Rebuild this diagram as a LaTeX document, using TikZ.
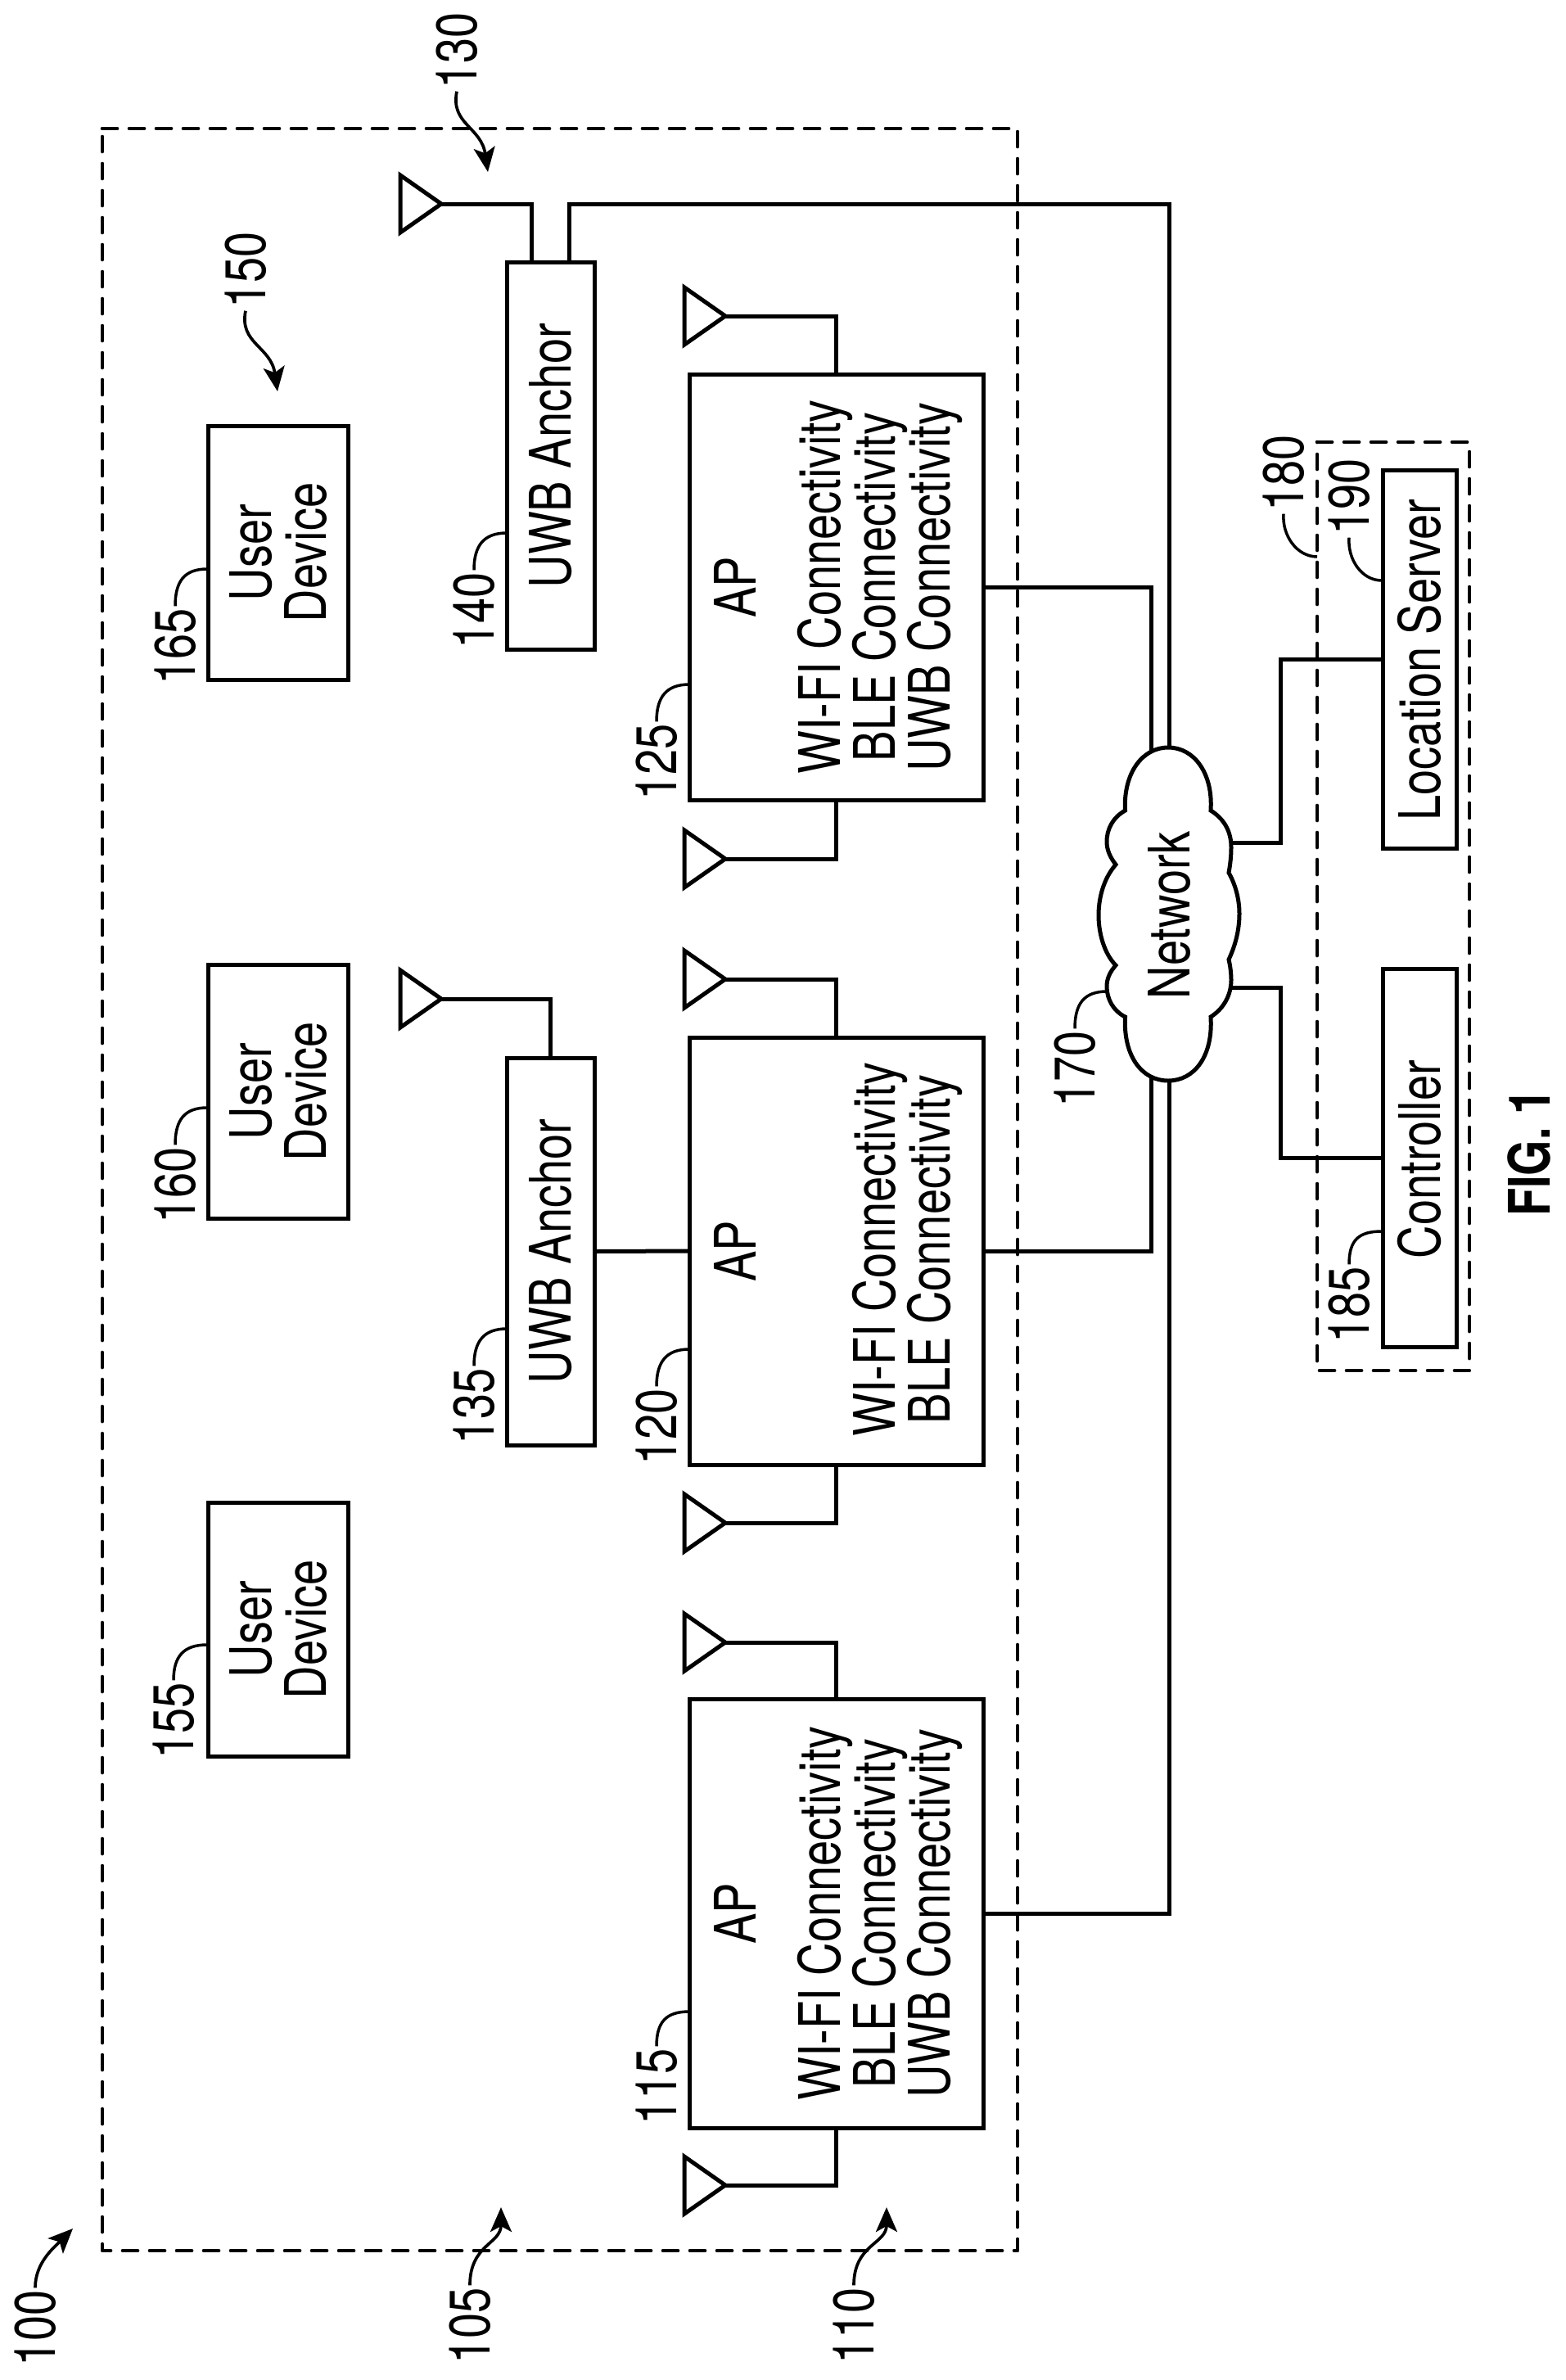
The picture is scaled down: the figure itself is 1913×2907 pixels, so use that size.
\documentclass[tikz,border=0pt]{standalone}
\usepackage{fontspec}
\usetikzlibrary{arrows.meta,calc}
\newfontfamily\lab[FakeStretch=0.8]{TeX Gyre Heros}
\newcommand{\labsize}{\lab\fontsize{70}{67}\selectfont}
\lineskiplimit=-100pt
\newcommand{\antennaat}[3]{%
  \coordinate (#1) at (#2,#3);
  \draw[wire,line join=miter] (#1) -- ++(-50,-35) -- ++(0,70) -- cycle;}
\tikzset{
  wire/.style={line width=5pt,black},
  dashbox/.style={line width=4.7pt,black,dash pattern=on 21pt off 12pt,line cap=round,line join=round},
  box/.style={draw=black,line width=5pt,fill=none,inner sep=0pt,outer sep=0pt,rectangle},
  vtext/.style={rotate=90,font=\labsize,inner sep=0pt,outer sep=0pt,align=center,text=black},
  reftext/.style={rotate=90,font=\labsize,inner sep=0pt,outer sep=3pt,text=black},
  leader/.style={line width=3.5pt,black},
  arrowlead/.style={line width=3.7pt,black,-{Stealth[length=30pt,width=26pt,inset=7pt]}},
}
\begin{document}
\begin{tikzpicture}[x=1pt,y=-1pt]
\fill[white] (0,0) rectangle (1913,2907);
\useasboundingbox (0,0) rectangle (1913,2907);

% dashed enclosures
\draw[dashbox,dash pattern=on 18pt off 15pt] (125,157) -- (1243,157) -- (1243,2749) -- (125,2749) -- cycle;
\draw[dashbox,dash pattern=on 18pt off 15pt] (1609,540) -- (1795,540) -- (1795,1674) -- (1609,1674) -- cycle;

% user devices
\node[box,minimum width=171pt,minimum height=310pt] (u165) at (339.5,675) {};
\node[box,minimum width=171pt,minimum height=310pt] (u160) at (339.5,1333) {};
\node[box,minimum width=171pt,minimum height=310pt] (u155) at (339.5,1990) {};
\node[vtext] (tu165) at (340,675) {User\\Device};
\node[vtext] (tu160) at (340,1333) {User\\Device};
\node[vtext] (tu155) at (340,1990) {User\\Device};

% UWB anchors
\node[box,minimum width=107pt,minimum height=473pt] (a140) at (672.5,556.5) {};
\node[box,minimum width=107pt,minimum height=473pt] (a135) at (672.5,1528.5) {};
\node[vtext] (ta140) at (673,556.5) {UWB Anchor};
\node[vtext] (ta135) at (673,1528.5) {UWB Anchor};

% access points
\node[box,minimum width=359pt,minimum height=520pt] (ap125) at (1021.5,717) {};
\node[box,minimum width=359pt,minimum height=522pt] (ap120) at (1021.5,1528) {};
\node[box,minimum width=359pt,minimum height=524pt] (ap115) at (1021.5,2337) {};
\node[vtext,anchor=base] (tap125) at (923,717) {AP};
\node[vtext,anchor=base] (tap120) at (923,1528) {AP};
\node[vtext,anchor=base] (tap115) at (923,2337) {AP};
\node[vtext] (c125) at (1075,717) {WI-FI Connectivity\\BLE Connectivity\\UWB Connectivity};
\node[vtext] (c120) at (1108,1526) {WI-FI Connectivity\\BLE Connectivity};
\node[vtext] (c115) at (1075,2337) {WI-FI Connectivity\\BLE Connectivity\\UWB Connectivity};

% controller and location server
\node[box,minimum width=90pt,minimum height=462pt] (srv) at (1734,805) {};
\node[box,minimum width=90pt,minimum height=462pt] (ctl) at (1734,1414) {};
\node[vtext] (tsrv) at (1734,806) {Location Server};
\node[vtext] (tctl) at (1734,1416) {Controller};

% network cloud
\draw[wire]
 (1374.5,990) .. controls (1372,945) and (1395,913) .. (1427,913)
 .. controls (1459,913) and (1482,945) .. (1479,990)
 .. controls (1495,1000) and (1504,1015) .. (1504,1035)
 .. controls (1504,1045) and (1503,1055) .. (1501,1066)
 .. controls (1509,1080) and (1514,1098) .. (1514,1116)
 .. controls (1514,1136) and (1509,1155) .. (1501,1172)
 .. controls (1503,1180) and (1504,1190) .. (1504,1197)
 .. controls (1504,1215) and (1495,1232) .. (1479,1242)
 .. controls (1482,1290) and (1459,1320) .. (1427,1320)
 .. controls (1395,1320) and (1372,1290) .. (1374.5,1242)
 .. controls (1360,1235) and (1352,1220) .. (1352,1205)
 .. controls (1352,1195) and (1356,1187) .. (1363,1179)
 .. controls (1349,1165) and (1342,1140) .. (1342,1118)
 .. controls (1342,1095) and (1349,1072) .. (1363,1056)
 .. controls (1356,1047) and (1352,1038) .. (1352,1028)
 .. controls (1352,1012) and (1360,998) .. (1374.5,990) -- cycle;
\node[vtext,anchor=base] (network) at (1453,1118) {Network};

% points on the cloud and bus corners
\coordinate (cloudtopa) at (1406,918);
\coordinate (cloudtopb) at (1428,913);
\coordinate (cloudbota) at (1406,1316);
\coordinate (cloudbotb) at (1428,1320);
\coordinate (cloudr1) at (1503,1029);
\coordinate (cloudr2) at (1503,1206);
\coordinate (busjog) at (1564,1116);
\coordinate (anchoruplink) at ($(a140.north)+(22.5,0)$);
\coordinate (anchorant) at ($(a140.north)+(-23.5,0)$);
\coordinate (bustop) at (1428,249);

% antennas
\antennaat{ant140}{539}{249}
\antennaat{ant135}{539}{1220}
\antennaat{ant125t}{886}{386}
\antennaat{ant125b}{886}{1049}
\antennaat{ant120t}{886}{1196}
\antennaat{ant120b}{886}{1860}
\antennaat{ant115t}{886}{2006}
\antennaat{ant115b}{886}{2669}

% connectors
\draw[wire] (ant140) -| (anchorant);
\draw[wire] (ant135) -| (a135.north);
\draw[wire] (ant125t) -| (ap125.north);
\draw[wire] (ant125b) -| (ap125.south);
\draw[wire] (ant120t) -| (ap120.north);
\draw[wire] (ant120b) -| (ap120.south);
\draw[wire] (ant115t) -| (ap115.north);
\draw[wire] (ant115b) -| (ap115.south);
\draw[wire] (anchoruplink) |- (bustop) -- (cloudtopb);
\draw[wire] (a135.east) -- (ap120.west);
\draw[wire] (ap125.east) -| (cloudtopa);
\draw[wire] (ap120.east) -| (cloudbota);
\draw[wire] (ap115.east) -| (cloudbotb);
\draw[wire] (cloudr1) -| (busjog |- srv.west) -- (srv.west);
\draw[wire] (cloudr2) -| (busjog |- ctl.west) -- (ctl.west);

% reference numerals
\node[reftext] (l130) at (558,62) {130};
\node[reftext] (l150) at (300,330) {150};
\node[reftext] (l140) at (579,746) {140};
\node[reftext] (l135) at (579,1718) {135};
\node[reftext] (l165) at (214,790) {165};
\node[reftext] (l160) at (214,1448) {160};
\node[reftext] (l155) at (212,2102) {155};
\node[reftext] (l125) at (802,931) {125};
\node[reftext] (l120) at (802,1743) {120};
\node[reftext] (l115) at (802,2549) {115};
\node[reftext] (l100) at (43,2844) {100};
\node[reftext] (l105) at (574,2841) {105};
\node[reftext] (l110) at (1043,2841) {110};
\node[reftext] (l170) at (1313,1306) {170};
\node[reftext] (l180) at (1568,578) {180};
\node[reftext] (l190) at (1648,607) {190};
\node[reftext] (l185) at (1648,1594) {185};

% free ends of leaders
\coordinate (e140) at (619,651);
\coordinate (e135) at (619,1623);
\coordinate (e165) at (253,695);
\coordinate (e160) at (253,1353);
\coordinate (e155) at (253,2009);
\coordinate (e125) at (842,836);
\coordinate (e120) at (842,1648);
\coordinate (e115) at (842,2457);
\coordinate (e170) at (1352,1211);
\coordinate (e180) at (1609,680);
\coordinate (e190) at (1688,709);
\coordinate (e185) at (1688,1504);
\coordinate (t130) at (596,210);
\coordinate (t150) at (339,478);
\coordinate (t100) at (89,2722);
\coordinate (t105) at (612,2696);
\coordinate (t110) at (1083,2696);

% leaders
\foreach \a/\b in {l140/e140,l135/e135,l165/e165,l160/e160,l155/e155,l125/e125,l120/e120,l115/e115,l170/e170,l185/e185}
  \draw[leader] (\a.east) .. controls +(0,-30) and +(-28,0) .. (\b);
\draw[leader] (l180.west) .. controls +(-2,26) and +(-25,0) .. (e180);
\draw[leader] (l190.west) .. controls +(-2,26) and +(-25,0) .. (e190);

\draw[arrowlead] (l130.west) .. controls +(-8,40) and +(-8,-55) .. (t130);
\draw[arrowlead] (l150.west) .. controls +(-8,40) and +(-8,-55) .. (t150);
\draw[arrowlead] (l100.east) .. controls +(0,-30) and +(-24,24) .. (t100);
\draw[arrowlead] (l105.east) .. controls +(0,-50) and +(0,45) .. (t105);
\draw[arrowlead] (l110.east) .. controls +(0,-50) and +(0,45) .. (t110);

% figure title
\node[vtext,font=\labsize\bfseries,anchor=base] (fig) at (1893,1408) {FIG. 1};
\end{tikzpicture}
\end{document}
